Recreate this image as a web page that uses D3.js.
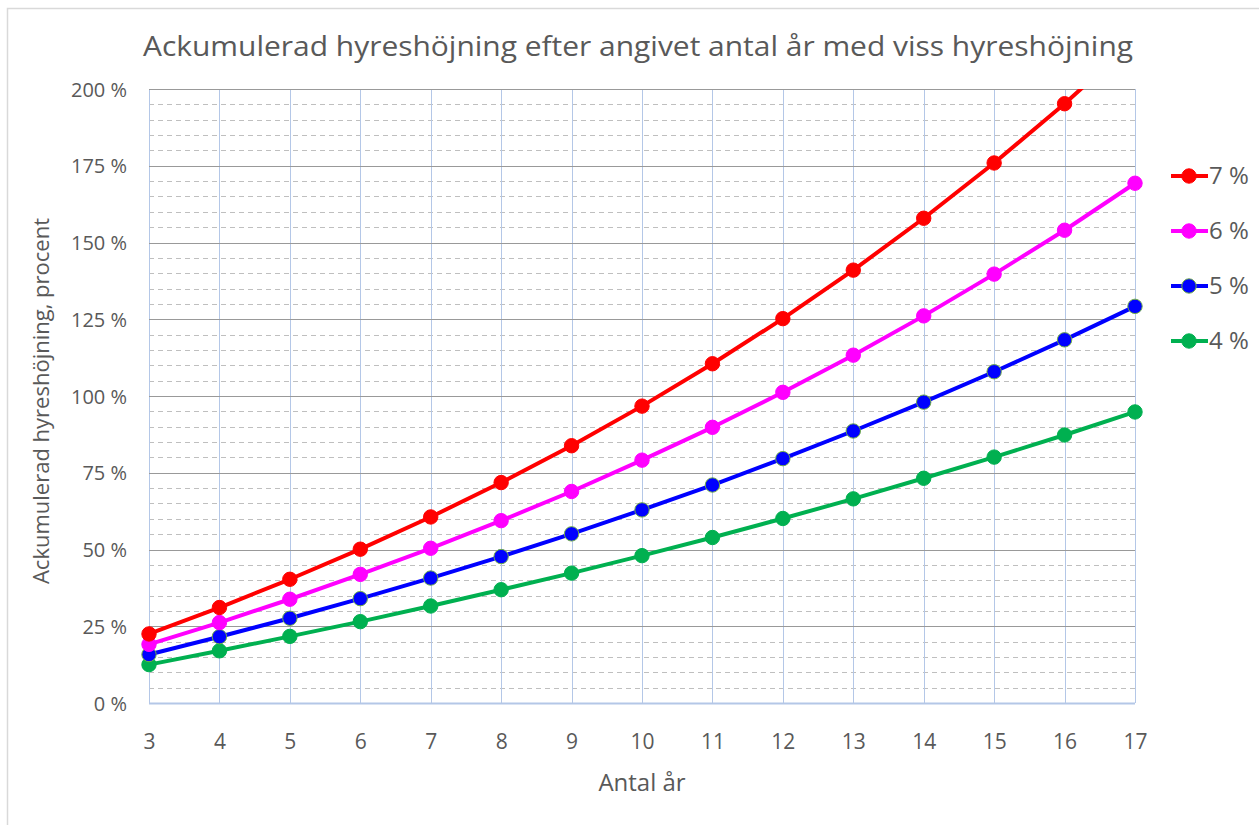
<!DOCTYPE html>
<html>
<head>
<meta charset="utf-8">
<script src="https://cdn.jsdelivr.net/npm/d3@7"></script>
<style>
  body { margin: 0; background: #fff; }
  text { font-family: "Open Sans", "Noto Sans", sans-serif; fill: #595959; }
</style>
</head>
<body>
<svg width="1259" height="825"></svg>
<script>
var years = [3, 4, 5, 6, 7, 8, 9, 10, 11, 12, 13, 14, 15, 16, 17];
var rate7 = [22.5, 31.1, 40.3, 50.1, 60.6, 71.8, 83.8, 96.7, 110.5, 125.2, 141.0, 157.9, 175.9, 195.2, 215.9];
var rate6 = [19.1, 26.2, 33.8, 41.9, 50.4, 59.4, 68.9, 79.1, 89.8, 101.2, 113.3, 126.1, 139.7, 154.0, 169.3];
var rate5 = [15.8, 21.6, 27.6, 34.0, 40.7, 47.7, 55.1, 62.9, 71.0, 79.6, 88.6, 98.0, 107.9, 118.3, 129.2];
var rate4 = [12.5, 17.0, 21.7, 26.5, 31.6, 36.9, 42.3, 48.0, 53.9, 60.1, 66.5, 73.2, 80.1, 87.3, 94.8];
var seriesNames = ["7 %", "6 %", "5 %", "4 %"];
var yTicks = [0, 25, 50, 75, 100, 125, 150, 175, 200];

var svg = d3.select("svg"),
  width = +svg.attr("width"),
  height = +svg.attr("height");

var plotLeft = 149, plotRight = 1135, plotTop = 89, plotBottom = 703;

var x = d3.scaleLinear().domain([3, 17]).range([plotLeft, plotRight]);
var y = d3.scaleLinear().domain([0, 200]).range([plotBottom, plotTop]);

var series = [
  { name: seriesNames[0], values: rate7, color: "#ff0000", stroke: "#ff0000" },
  { name: seriesNames[1], values: rate6, color: "#ff00ff", stroke: "#ff00ff" },
  { name: seriesNames[2], values: rate5, color: "#0000ff", stroke: "#70ad47" },
  { name: seriesNames[3], values: rate4, color: "#00b050", stroke: "#00b050" }
];

// outer chart border (cropped in the screenshot)
svg.append("rect")
  .attr("x", 7.5).attr("y", 8.5)
  .attr("width", width).attr("height", height)
  .attr("fill", "none").attr("stroke", "#d9d9d9").attr("stroke-width", 1.5);

// title
svg.append("text")
  .attr("x", 638).attr("y", 56)
  .attr("text-anchor", "middle")
  .attr("font-size", 28)
  .attr("textLength", 990)
  .attr("lengthAdjust", "spacingAndGlyphs")
  .text("Ackumulerad hyreshöjning efter angivet antal år med viss hyreshöjning");

// minor dashed grid
var minor = d3.range(5, 200, 5).filter(function (d) { return d % 25 !== 0; });
svg.append("g").selectAll("line").data(minor).enter().append("line")
  .attr("x1", plotLeft).attr("x2", plotRight)
  .attr("y1", function (d) { return Math.round(y(d)) + 0.5; })
  .attr("y2", function (d) { return Math.round(y(d)) + 0.5; })
  .attr("stroke", "#bfbfbf").attr("stroke-dasharray", "5,4").attr("stroke-width", 1);

// vertical grid
svg.append("g").selectAll("line").data(years).enter().append("line")
  .attr("x1", function (d) { return Math.round(x(d)) + 0.5; })
  .attr("x2", function (d) { return Math.round(x(d)) + 0.5; })
  .attr("y1", plotTop).attr("y2", plotBottom)
  .attr("stroke", "#b4c7e7").attr("stroke-width", 1);

// major grid
svg.append("g").selectAll("line").data(yTicks.slice(1)).enter().append("line")
  .attr("x1", plotLeft).attr("x2", plotRight)
  .attr("y1", function (d) { return Math.round(y(d)) + 0.5; })
  .attr("y2", function (d) { return Math.round(y(d)) + 0.5; })
  .attr("stroke", "#999999").attr("stroke-width", 1.2);

// bottom axis line
svg.append("line")
  .attr("x1", plotLeft).attr("x2", plotRight)
  .attr("y1", plotBottom + 0.5).attr("y2", plotBottom + 0.5)
  .attr("stroke", "#b4c7e7").attr("stroke-width", 2);

// tick labels via d3 axes
var yAxis = d3.axisLeft(y).tickValues(yTicks).tickSize(0).tickPadding(0)
  .tickFormat(function (d) { return d + " %"; });
var gy = svg.append("g").attr("transform", "translate(127,0)").call(yAxis);
gy.select(".domain").remove();
gy.selectAll("text").attr("font-size", 20).attr("fill", "#595959").attr("dy", "0.35em");

var xAxis = d3.axisBottom(x).tickValues(years).tickSize(0).tickPadding(0)
  .tickFormat(d3.format("d"));
var gx = svg.append("g").attr("transform", "translate(0,742)").call(xAxis);
gx.select(".domain").remove();
gx.selectAll("text").attr("font-size", 21).attr("fill", "#595959").attr("dy", "0.35em");

svg.append("text")
  .attr("x", 642).attr("y", 791)
  .attr("text-anchor", "middle").attr("font-size", 24)
  .text("Antal år");

svg.append("text")
  .attr("transform", "translate(49,401) rotate(-90)")
  .attr("text-anchor", "middle").attr("font-size", 22)
  .text("Ackumulerad hyreshöjning, procent");

// clip lines to the plot area
svg.append("clipPath").attr("id", "plot")
  .append("rect").attr("x", plotLeft - 10).attr("y", plotTop)
  .attr("width", plotRight - plotLeft + 20).attr("height", plotBottom - plotTop + 10);

var line = d3.line()
  .x(function (d, i) { return x(years[i]); })
  .y(function (d) { return y(d); });

var plot = svg.append("g").attr("clip-path", "url(#plot)");

series.slice().reverse().forEach(function (s) {
  plot.append("path")
    .datum(s.values)
    .attr("d", line)
    .attr("fill", "none")
    .attr("stroke", s.color)
    .attr("stroke-width", 4)
    .attr("stroke-linejoin", "round");
});

var markers = svg.append("g");
series.slice().reverse().forEach(function (s) {
  markers.append("g").selectAll("circle")
    .data(s.values.map(function (v, i) { return [years[i], v]; })
      .filter(function (d) { return d[1] <= 200; }))
    .enter().append("circle")
    .attr("cx", function (d) { return x(d[0]); })
    .attr("cy", function (d) { return y(d[1]); })
    .attr("r", 7.2)
    .attr("fill", s.color)
    .attr("stroke", s.stroke)
    .attr("stroke-width", 1);
});

// legend
var legend = svg.append("g");
series.forEach(function (s, i) {
  var ly = 176 + i * 55;
  legend.append("line")
    .attr("x1", 1171).attr("x2", 1208).attr("y1", ly).attr("y2", ly)
    .attr("stroke", s.color).attr("stroke-width", 4);
  legend.append("circle")
    .attr("cx", 1189).attr("cy", ly).attr("r", 7.2)
    .attr("fill", s.color).attr("stroke", s.stroke).attr("stroke-width", 1);
  legend.append("text")
    .attr("x", 1209).attr("y", ly).attr("dy", "0.35em")
    .attr("font-size", 24)
    .text(s.name);
});
</script>
</body>
</html>
